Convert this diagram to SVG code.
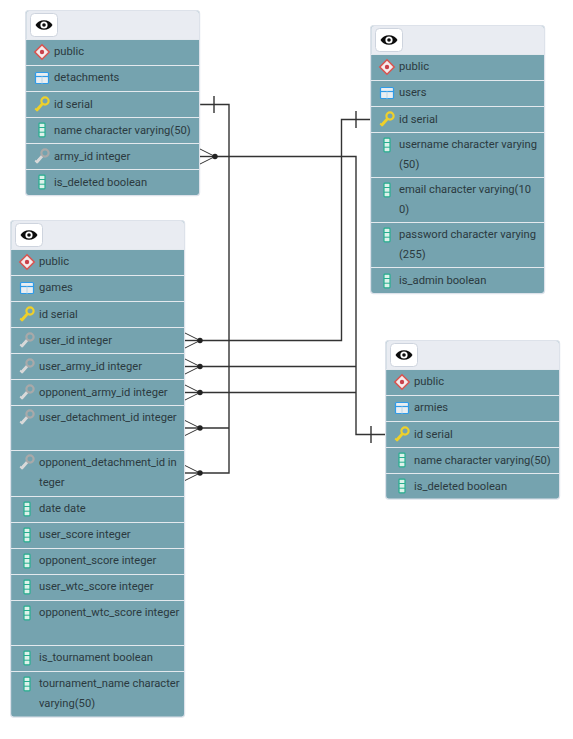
<svg xmlns="http://www.w3.org/2000/svg" xmlns:xlink="http://www.w3.org/1999/xlink" width="573" height="739" viewBox="0 0 573 739">
<style>
text{font-family:Roboto,"Liberation Sans",sans-serif;font-size:11.2px;fill:#2b3a40}
.card{fill:#75a3af;stroke:#dde2ea;stroke-width:1.2}
.head{fill:#e9ecf2}
.sep{stroke:#e4e9ee;stroke-width:1.2;fill:none}
.btn{fill:#fff;stroke:#ced4de;stroke-width:1}
.c{fill:none;stroke:#333;stroke-width:1.4}
.f{fill:none;stroke:#333;stroke-width:1}
.d{fill:#222}
</style>
<defs>
<g id="eye"><path d="M-8.500 0C-5.500-6.400 5.500-6.400 8.500 0C5.500 6.400-5.500 6.400-8.500 0Z" fill="#0c0c0c"/><circle r="3.600" fill="#fff"/><circle r="1.800" fill="#0c0c0c"/></g>
<g id="schema"><path d="M0-7.200L7.200 0L0 7.200L-7.200 0Z" fill="#f6ecec" stroke="#d9534f" stroke-width="1.500"/><circle r="2.200" fill="#c9414a"/></g>
<g id="table"><rect x="-6.500" y="-5.500" width="13" height="11" rx="1" fill="#e9eef2" stroke="#2f9be8" stroke-width="1.200"/><path d="M-6.500-1.500H6.500" stroke="#2f9be8" stroke-width="1.200" fill="none"/><path d="M0-1.500V5.500" stroke="#b9d6ea" stroke-width="1" fill="none"/></g>
<g id="key"><path d="M-5.500 6.500L1.500-1.500" stroke="#efd02a" stroke-width="2.800" fill="none"/><path d="M-4.500 6.800L-6.800 4.500M-2.500 4.700L-4.200 3" stroke="#efd02a" stroke-width="1.800" fill="none"/><circle cx="3" cy="-3" r="3.600" fill="#75a3af" stroke="#efd02a" stroke-width="2.200"/></g>
<g id="fk"><path d="M-5.500 6.500L1.500-1.500" stroke="#d9d9d9" stroke-width="2.800" fill="none"/><path d="M-4.500 6.800L-6.800 4.500M-2.500 4.700L-4.200 3" stroke="#d9d9d9" stroke-width="1.800" fill="none"/><circle cx="3" cy="-3" r="3.600" fill="#75a3af" stroke="#a9a9a9" stroke-width="2.200"/></g>
<g id="col"><rect x="-3" y="-6.800" width="6" height="13.600" rx="0.800" fill="#dcf2ea" stroke="#27ae8f" stroke-width="1.200"/><path d="M-3-2.500H3M-3 2.200H3" stroke="#27ae8f" stroke-width="1" fill="none"/></g>
<g id="crow"><path class="f" d="M-15-7.500L0 0M-15 7.500L0 0"/><path class="c" d="M-15 0H0"/><circle class="d" r="2.700"/></g>
</defs>

<g id="connectors">
<path class="c" d="M200 104.500H229V473H200M229 428H200"/>
<path class="c" d="M214 96V113"/>
<path class="c" d="M371 119.500H341.500V340.500H200"/>
<path class="c" d="M356 111V128"/>
<path class="c" d="M386 434.500H356V156.500H215M356 366.500H200M356 392.500H200"/>
<path class="c" d="M371 426V443"/>
</g>

<g id="detachments">
<rect class="card" x="25.600" y="10.600" width="174" height="185" rx="3"/>
<path class="head" d="M26.200 39V14a3 3 0 0 1 3-3H196a3 3 0 0 1 3 3V39Z"/>
<rect class="btn" x="30.500" y="13.500" width="27" height="23" rx="4"/>
<use href="#eye" x="44" y="25"/>
<path class="sep" d="M26 39.500H199M26 65.500H199M26 91.500H199M26 117.500H199M26 143.500H199M26 169.500H199"/>
<use href="#schema" x="42" y="52"/><text x="54" y="55">public</text>
<use href="#table" x="42" y="78"/><text x="54" y="81">detachments</text>
<use href="#key" x="42" y="104"/><text x="54" y="108">id serial</text>
<use href="#col" x="42" y="130"/><text x="54" y="134">name character varying(50)</text>
<use href="#fk" x="42" y="156"/><text x="54" y="160">army_id integer</text>
<use href="#col" x="42" y="182"/><text x="54" y="186">is_deleted boolean</text>
</g>

<g id="users">
<rect class="card" x="370.600" y="25.600" width="174" height="268" rx="3"/>
<path class="head" d="M371.200 54V29a3 3 0 0 1 3-3H541a3 3 0 0 1 3 3V54Z"/>
<rect class="btn" x="375.500" y="28.500" width="27" height="23" rx="4"/>
<use href="#eye" x="389" y="40"/>
<path class="sep" d="M371 54.500H544M371 80.500H544M371 106.500H544M371 132.500H544M371 177.500H544M371 222.500H544M371 267.500H544"/>
<use href="#schema" x="387" y="67"/><text x="399" y="70">public</text>
<use href="#table" x="387" y="93"/><text x="399" y="96">users</text>
<use href="#key" x="387" y="119"/><text x="399" y="123">id serial</text>
<use href="#col" x="387" y="145"/><text x="399" y="148">username character varying</text><text x="399" y="168">(50)</text>
<use href="#col" x="387" y="190"/><text x="399" y="193">email character varying(10</text><text x="399" y="213">0)</text>
<use href="#col" x="387" y="235"/><text x="399" y="238">password character varying</text><text x="399" y="258">(255)</text>
<use href="#col" x="387" y="281"/><text x="399" y="284">is_admin boolean</text>
</g>

<g id="games">
<rect class="card" x="10.600" y="220.600" width="174" height="496.500" rx="3"/>
<path class="head" d="M11.200 249V224a3 3 0 0 1 3-3H181a3 3 0 0 1 3 3V249Z"/>
<rect class="btn" x="15.500" y="223.500" width="27" height="23" rx="4"/>
<use href="#eye" x="29" y="235"/>
<path class="sep" d="M11 249.500H184M11 275.500H184M11 301.500H184M11 327.500H184M11 353.500H184M11 379.500H184M11 405.500H184M11 450.500H184M11 496.500H184M11 522.500H184M11 548.500H184M11 574.500H184M11 600.500H184M11 645.500H184M11 671.500H184"/>
<use href="#schema" x="27" y="262"/><text x="39" y="265">public</text>
<use href="#table" x="27" y="288"/><text x="39" y="291">games</text>
<use href="#key" x="27" y="314"/><text x="39" y="318">id serial</text>
<use href="#fk" x="27" y="340"/><text x="39" y="344">user_id integer</text>
<use href="#fk" x="27" y="366"/><text x="39" y="370">user_army_id integer</text>
<use href="#fk" x="27" y="392"/><text x="39" y="396">opponent_army_id integer</text>
<use href="#fk" x="27" y="417"/><text x="39" y="421">user_detachment_id integer</text>
<use href="#fk" x="27" y="462"/><text x="39" y="466">opponent_detachment_id in</text><text x="39" y="486">teger</text>
<use href="#col" x="27" y="509"/><text x="39" y="512">date date</text>
<use href="#col" x="27" y="535"/><text x="39" y="538">user_score integer</text>
<use href="#col" x="27" y="561"/><text x="39" y="564">opponent_score integer</text>
<use href="#col" x="27" y="587"/><text x="39" y="590">user_wtc_score integer</text>
<use href="#col" x="27" y="613"/><text x="39" y="616">opponent_wtc_score integer</text>
<use href="#col" x="27" y="658"/><text x="39" y="661">is_tournament boolean</text>
<use href="#col" x="27" y="684"/><text x="39" y="687">tournament_name character</text><text x="39" y="707">varying(50)</text>
</g>

<g id="armies">
<rect class="card" x="385.600" y="340.600" width="174" height="158.500" rx="3"/>
<path class="head" d="M386.200 369V344a3 3 0 0 1 3-3H556a3 3 0 0 1 3 3V369Z"/>
<rect class="btn" x="390.500" y="343.500" width="27" height="23" rx="4"/>
<use href="#eye" x="404" y="355"/>
<path class="sep" d="M386 369.500H559M386 395.500H559M386 421.500H559M386 447.500H559M386 473.500H559"/>
<use href="#schema" x="402" y="382"/><text x="414" y="385">public</text>
<use href="#table" x="402" y="408"/><text x="414" y="411">armies</text>
<use href="#key" x="402" y="434"/><text x="414" y="438">id serial</text>
<use href="#col" x="402" y="460"/><text x="414" y="464">name character varying(50)</text>
<use href="#col" x="402" y="486"/><text x="414" y="490">is_deleted boolean</text>
</g>

<g id="crowfeet">
<use href="#crow" x="215" y="156.500"/>
<use href="#crow" x="200" y="340.500"/>
<use href="#crow" x="200" y="366.500"/>
<use href="#crow" x="200" y="392.500"/>
<use href="#crow" x="200" y="428"/>
<use href="#crow" x="200" y="473"/>
</g>
</svg>
